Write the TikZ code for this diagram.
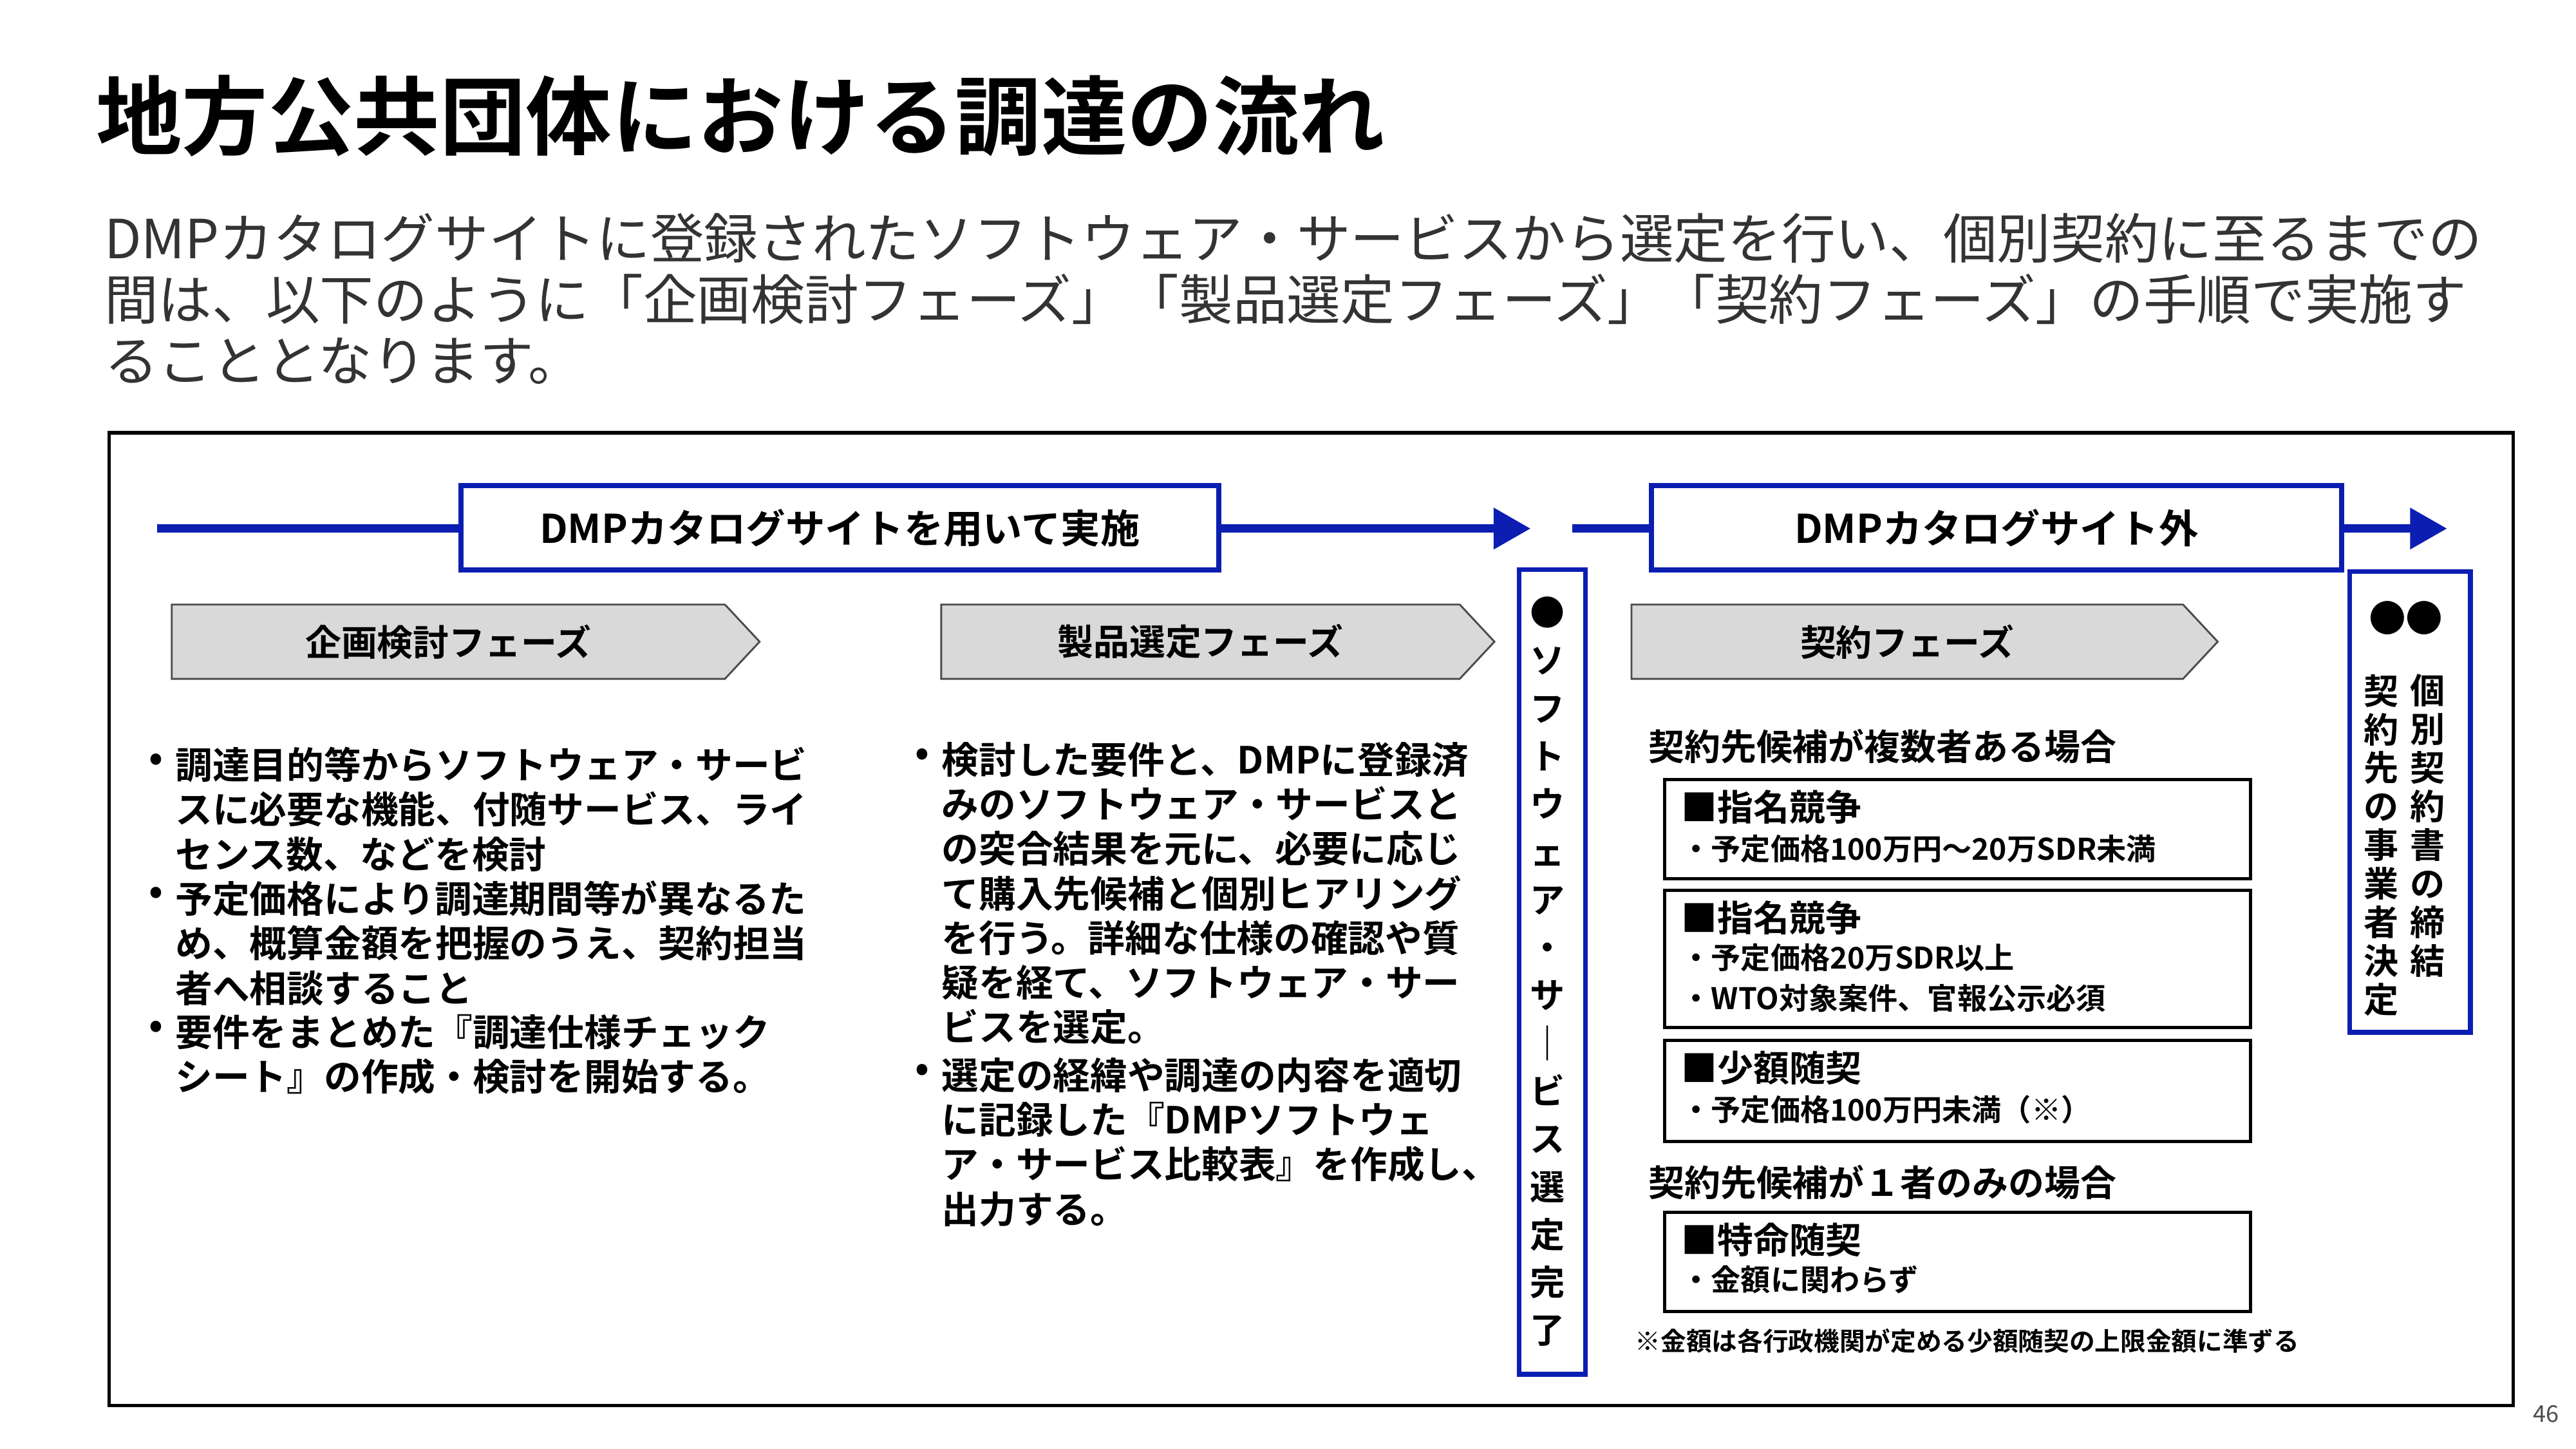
\documentclass[tikz,border=0pt]{standalone}
\usepackage{fontspec}
\setmainfont{Noto Sans CJK JP}
\newfontfamily\jpb{Noto Sans CJK JP Bold}
\usetikzlibrary{arrows.meta}
\definecolor{dmpblue}{RGB}{12,30,178}
\definecolor{phasegray}{RGB}{217,217,217}
\begin{document}
\begin{tikzpicture}[x=0.025cm,y=-0.025cm,
  bluebox/.style={draw=dmpblue,line width=2.2pt,fill=white,inner sep=0pt},
  bluearrow/.style={draw=dmpblue,line width=3.6pt,-{Triangle[length=16pt,width=17pt]}},
  phase/.style={draw=black!70,line width=0.8pt,fill=phasegray},
  cbox/.style={draw=black,line width=1.4pt},
  body/.style={font=\jpb\fontsize{16}{19.2}\selectfont,align=left,anchor=north west,inner sep=0pt},
  small/.style={font=\jpb\fontsize{12.8}{17}\selectfont,align=left,anchor=north west,inner sep=0pt},
  vert/.style={font=\jpb\fontsize{15}{20.6}\selectfont,align=center,anchor=north,inner sep=0pt}]
\useasboundingbox (0,0) rectangle (1560,877);
\fill[white] (0,0) rectangle (1560,877);
\node[anchor=base west,inner sep=0pt,font=\jpb\fontsize{37}{37}\selectfont] (title) at (58,90) {地方公共団体における調達の流れ};
\node[anchor=north west,inner sep=0pt,align=left,font=\fontsize{23.2}{26.3}\selectfont,text=black!80] (intro) at (63,129)
 {DMPカタログサイトに登録されたソフトウェア・サービスから選定を行い、個別契約に至るまでの\\間は、以下のように「企画検討フェーズ」「製品選定フェーズ」「契約フェーズ」の手順で実施す\\ることとなります。};
\draw[line width=1.5pt] (66,262) rectangle (1522,851);
% arrows
\coordinate (a1s) at (95,320); \coordinate (a1e) at (927,320);
\draw[bluearrow] (a1s) -- (a1e);
\node[bluebox,minimum width=459*0.025cm,minimum height=51*0.025cm,font=\jpb\fontsize{17}{17}\selectfont] (b1) at (508.5,319.5) {DMPカタログサイトを用いて実施};
\coordinate (a2s) at (952,320); \coordinate (a2e) at (1482,320);
\draw[bluearrow] (a2s) -- (a2e);
\node[bluebox,minimum width=418*0.025cm,minimum height=51*0.025cm,font=\jpb\fontsize{17}{17}\selectfont] (b2) at (1209,319.5) {DMPカタログサイト外};
% phases
\foreach \xa/\xb/\t [count=\i] in {104/460/企画検討フェーズ,570/905/製品選定フェーズ,988/1343/契約フェーズ}{
  \draw[phase] (\xa,366) -- (\xb-21,366) -- (\xb,388.5) -- (\xb-21,411) -- (\xa,411) -- cycle;
  \node[font=\jpb\fontsize{15.5}{15.5}\selectfont] (p\i) at ({(\xa+\xb-21)/2},388.5) {\t};
}
% vertical boxes
\draw[draw=dmpblue,line width=2pt] (920,345) rectangle (960,832);
\node[vert] (v1) at (937,361) {●\\ソ\\フ\\ト\\ウ\\ェ\\ア\\・\\サ\\｜\\ビ\\ス\\選\\定\\完\\了};
\draw[draw=dmpblue,line width=2pt] (1423,346) rectangle (1496,625);
\node[font=\jpb\fontsize{16}{16}\selectfont] (dots) at (1457,374) {●●};
\node[vert,font=\jpb\fontsize{15}{16.6}\selectfont] (v2) at (1470,408) {個\\別\\契\\約\\書\\の\\締\\結};
\node[vert,font=\jpb\fontsize{15}{16.6}\selectfont] (v3) at (1442,408) {契\\約\\先\\の\\事\\業\\者\\決\\定};
% left bullets
\node[body] (l1) at (90,456) {•};
\node[body] (l1t) at (106,452) {調達目的等からソフトウェア・サービ\\スに必要な機能、付随サービス、ライ\\センス数、などを検討};
\node[body] (l2) at (90,537) {•};
\node[body] (l2t) at (106,533) {予定価格により調達期間等が異なるた\\め、概算金額を把握のうえ、契約担当\\者へ相談すること};
\node[body] (l3) at (90,618) {•};
\node[body] (l3t) at (106,614) {要件をまとめた『調達仕様チェック\\シート』の作成・検討を開始する。};
% middle bullets
\node[body] (m1) at (554,453) {•};
\node[body] (m1t) at (570,449) {検討した要件と、DMPに登録済\\みのソフトウェア・サービスと\\の突合結果を元に、必要に応じ\\て購入先候補と個別ヒアリング\\を行う。詳細な仕様の確認や質\\疑を経て、ソフトウェア・サー\\ビスを選定。};
\node[body] (m2) at (554,644) {•};
\node[body] (m2t) at (570,640) {選定の経緯や調達の内容を適切\\に記録した『DMPソフトウェ\\ア・サービス比較表』を作成し、\\出力する。};
% contract
\node[anchor=west,inner sep=0pt,font=\jpb\fontsize{15.5}{15.5}\selectfont] (h1) at (998,452) {契約先候補が複数者ある場合};
\draw[cbox] (1008,472) rectangle (1363,532);
\node[small,font=\jpb\fontsize{15.5}{15.5}\selectfont] (c1) at (1018,478) {■指名競争};
\node[small] (c1a) at (1018,505) {・予定価格100万円～20万SDR未満};
\draw[cbox] (1008,539) rectangle (1363,622);
\node[small,font=\jpb\fontsize{15.5}{15.5}\selectfont] (c2) at (1018,545) {■指名競争};
\node[small,font=\jpb\fontsize{12.8}{17.5}\selectfont] (c2a) at (1018,571) {・予定価格20万SDR以上\\・WTO対象案件、官報公示必須};
\draw[cbox] (1008,630) rectangle (1363,691);
\node[small,font=\jpb\fontsize{15.5}{15.5}\selectfont] (c3) at (1018,636) {■少額随契};
\node[small] (c3a) at (1018,663) {・予定価格100万円未満（※）};
\node[anchor=west,inner sep=0pt,font=\jpb\fontsize{15.5}{15.5}\selectfont] (h2) at (998,716) {契約先候補が１者のみの場合};
\draw[cbox] (1008,734) rectangle (1363,794);
\node[small,font=\jpb\fontsize{15.5}{15.5}\selectfont] (c4) at (1018,740) {■特命随契};
\node[small] (c4a) at (1018,766) {・金額に関わらず};
\node[anchor=west,inner sep=0pt,font=\jpb\fontsize{11}{11}\selectfont] (note) at (990,812) {※金額は各行政機関が定める少額随契の上限金額に準ずる};
\node[anchor=east,inner sep=0pt,font=\fontsize{10}{10}\selectfont,text=black!70] (pg) at (1550,856) {46};
\end{tikzpicture}
\end{document}
